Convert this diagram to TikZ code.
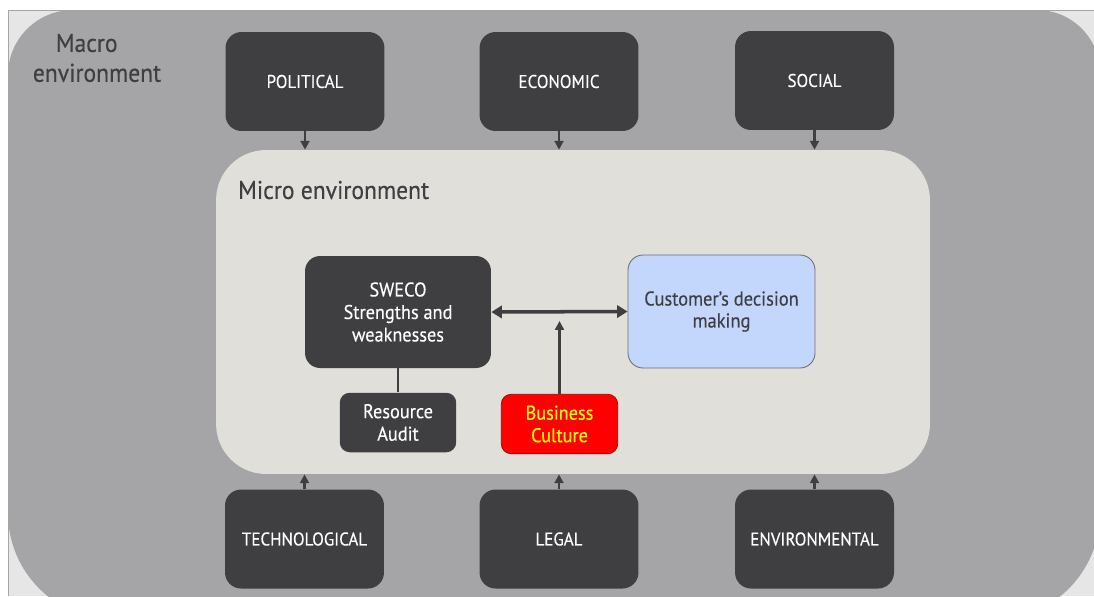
\documentclass[tikz,border=0pt]{standalone}
\usepackage{fontspec}
\setmainfont{PT Sans}[FakeStretch=0.92, FakeBold=0.3]
\usepackage{tikz}
\usetikzlibrary{arrows.meta}
\definecolor{framegrey}{HTML}{E6E6E6}
\definecolor{macrogrey}{HTML}{A5A5A7}
\definecolor{microgrey}{HTML}{E0DFDA}
\definecolor{boxgrey}{HTML}{3F3F41}
\definecolor{custblue}{HTML}{C3D6FB}
\definecolor{custline}{HTML}{6F6F75}
\definecolor{busred}{HTML}{FF0000}
\definecolor{busline}{HTML}{A00000}
\definecolor{busyellow}{HTML}{FFFF00}

\begin{document}
\begin{tikzpicture}[x=0.02cm, y=-0.02cm,
    pest/.style={rectangle, rounded corners=0.32cm, fill=boxgrey, text=white,
        minimum width=3.18cm, minimum height=1.98cm,
        font=\fontsize{10.5}{12}\selectfont},
    dark/.style={rectangle, rounded corners=0.3cm, fill=boxgrey, text=white,
        align=center, font=\fontsize{11.3}{12.8}\selectfont},
    small/.style={rectangle, rounded corners=0.2cm, align=center,
        minimum width=2.33cm, minimum height=1.19cm,
        font=\fontsize{11.3}{12.8}\selectfont},
    thin/.style={-{Triangle[length=5pt, width=5pt]}, line width=1.3pt, boxgrey}]

\useasboundingbox (0,0) rectangle (1094,596);
\fill[white] (0,0) rectangle (1094,596);
\fill[framegrey] (8,10) rectangle (1094,596);
\draw[line width=0.5pt, black!35] (8,596) -- (8,10) -- (1094,10);

% macro environment
\fill[macrogrey] (8,300) {[rounded corners=1.3cm] -- (8,10) -- (560,10)}
    {[rounded corners=1.26cm] -- (1100,10) -- (1100,300)}
    {[rounded corners=2.14cm] -- (1100,620) -- (560,620)}
    {[rounded corners=2.14cm] -- (8,620) -- (8,300)} -- cycle;
\node[text=boxgrey, align=left, font=\fontsize{14.6}{17}\selectfont] (macro) at (97,58) {\hspace*{0.46cm}Macro\\environment};

% micro environment
\node[rectangle, rounded corners=1cm, fill=microgrey, minimum width=14.28cm, minimum height=6.48cm] (micro) at (573,312) {};
\node[anchor=west, text=boxgrey, font=\fontsize{14.6}{16}\selectfont] (microlbl) at (232,190) {Micro environment};

\node[pest] (pol) at (305,81.5) {POLITICAL};
\node[pest] (eco) at (559,81.5) {ECONOMIC};
\node[pest] (soc) at (814.5,80.5) {SOCIAL};
\node[pest] (tech) at (304.5,539) {TECHNOLOGICAL};
\node[pest] (leg) at (559,539) {LEGAL};
\node[pest] (env) at (814.5,539) {ENVIRONMENTAL};

\node[dark, minimum width=3.72cm, minimum height=2.24cm] (sweco) at (398,312) {SWECO\\Strengths and\\weaknesses};
\node[rectangle, rounded corners=0.3cm, fill=custblue, draw=custline, line width=0.5pt, text=boxgrey,
    align=center, minimum width=3.74cm, minimum height=2.26cm,
    font=\fontsize{11.4}{12.5}\selectfont] (cust) at (721.5,311.5) {Customer's decision\\making};
\node[small, fill=boxgrey, text=white] (res) at (398,422.5) {Resource\\Audit};
\node[small, fill=busred, draw=busline, line width=0.4pt, text=busyellow] (bus) at (559.5,424) {Business\\Culture};
\coordinate (bustip) at (559.5,321);

\draw[thin] (pol.south) -- (pol.south |- micro.north);
\draw[thin] (eco.south) -- (eco.south |- micro.north);
\draw[thin] (soc.south) -- (soc.south |- micro.north);
\draw[thin] (tech.north) -- (tech.north |- micro.south);
\draw[thin] (leg.north) -- (leg.north |- micro.south);
\draw[thin] (env.north) -- (env.north |- micro.south);

\draw[{Triangle[length=6pt, width=7pt]}-{Triangle[length=6pt, width=7pt]}, line width=2pt, boxgrey] (sweco.east) -- (cust.west);
\draw[-{Triangle[length=5pt, width=5pt]}, line width=1.6pt, boxgrey] (bus.north) -- (bustip);
\draw[line width=1.6pt, boxgrey] (sweco.south) -- (res.north);
\end{tikzpicture}
\end{document}
